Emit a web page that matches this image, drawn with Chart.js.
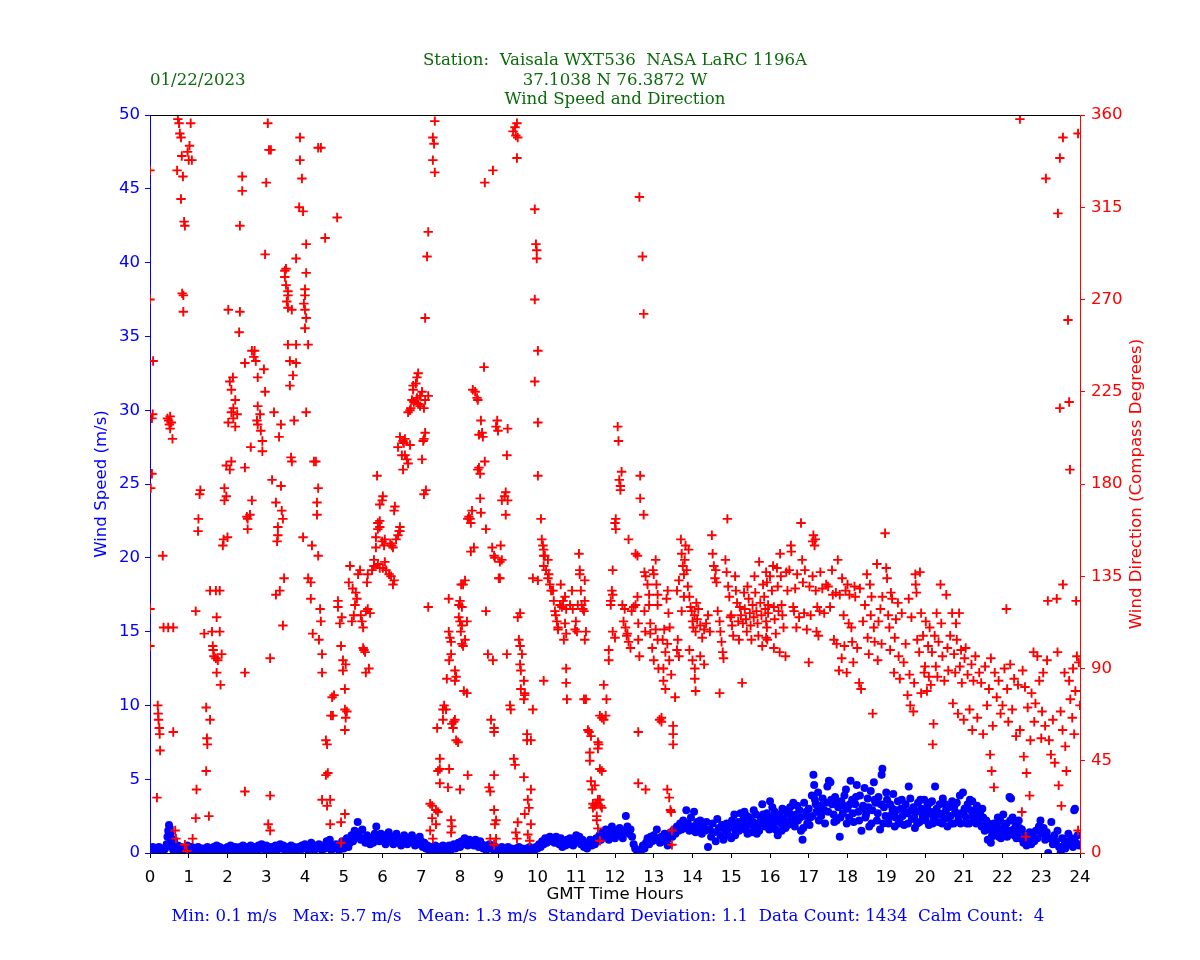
<!DOCTYPE html>
<html>
<head>
  <title>index</title>
  <script src="https://cdn.jsdelivr.net/npm/chart.js"></script>
  <style>body { margin: 0; background: #fff; }</style>
</head>
<body>
  <canvas id="chart" width="1200" height="960"></canvas>

  <script>
    const titleLines = ['Station:  Vaisala WXT536  NASA LaRC 1196A', '37.1038 N 76.3872 W', 'Wind Speed and Direction'];
    const dateLabel = '01/22/2023';
    const statsLine = 'Min: 0.1 m/s   Max: 5.7 m/s   Mean: 1.3 m/s  Standard Deviation: 1.1  Data Count: 1434  Calm Count:  4';
    const xTitle = 'GMT Time Hours';
    const speedTitle = 'Wind Speed (m/s)';
    const directionTitle = 'Wind Direction (Compass Degrees)';

    // [GMT hour, wind speed m/s]
    const speedReadings = [
      [0.00,0.3],[0.03,0.1],[0.07,0.4],[0.11,0.2],[0.15,0.3],[0.19,0.1],[0.23,0.4],[0.27,0.2],[0.31,0.3],[0.35,0.1],[0.39,0.3],[0.43,0.6],[0.45,1.1],[0.47,1.5],[0.49,1.9],[0.51,1.7],[0.53,1.3],[0.55,0.8],[0.57,0.4],[0.60,0.2],[0.62,0.9],[0.64,0.3],[0.68,0.1],[0.72,0.5],[0.76,0.2],[0.80,0.4],[0.84,0.1],[0.88,0.3],[0.92,0.2],[0.96,0.5],
      [1.00,0.2],[1.04,0.1],[1.08,0.4],[1.12,0.2],[1.16,0.3],[1.20,0.1],[1.24,0.4],[1.28,0.2],[1.32,0.3],[1.36,0.1],[1.40,0.3],[1.44,0.2],[1.48,0.4],[1.52,0.1],[1.56,0.3],[1.60,0.2],[1.64,0.4],[1.68,0.3],[1.72,0.5],[1.76,0.2],[1.80,0.4],[1.84,0.3],[1.88,0.1],[1.92,0.3],[1.96,0.2],
      [2.00,0.4],[2.04,0.2],[2.08,0.5],[2.12,0.3],[2.16,0.2],[2.20,0.4],[2.24,0.1],[2.28,0.3],[2.32,0.4],[2.36,0.2],[2.40,0.5],[2.44,0.3],[2.48,0.1],[2.52,0.4],[2.56,0.3],[2.60,0.5],[2.64,0.2],[2.68,0.4],[2.72,0.3],[2.76,0.1],[2.80,0.5],[2.84,0.3],[2.88,0.6],[2.92,0.4],[2.96,0.2],
      [3.00,0.5],[3.04,0.3],[3.08,0.1],[3.12,0.4],[3.16,0.2],[3.20,0.3],[3.24,0.5],[3.28,0.2],[3.32,0.4],[3.36,0.6],[3.40,0.3],[3.44,0.5],[3.48,0.2],[3.52,0.4],[3.56,0.1],[3.60,0.3],[3.64,0.5],[3.68,0.2],[3.72,0.4],[3.76,0.3],[3.80,0.1],[3.84,0.4],[3.88,0.2],[3.92,0.5],[3.96,0.3],
      [4.00,0.6],[4.04,0.4],[4.08,0.2],[4.12,0.5],[4.16,0.7],[4.20,0.4],[4.24,0.2],[4.28,0.5],[4.32,0.3],[4.36,0.6],[4.40,0.4],[4.44,0.2],[4.48,0.5],[4.52,0.3],[4.56,0.8],[4.60,0.4],[4.64,0.9],[4.68,0.2],[4.72,0.5],[4.76,0.3],[4.80,0.6],[4.84,0.4],[4.88,0.2],[4.92,0.5],[4.96,0.8],
      [5.00,0.3],[5.04,0.6],[5.08,1.0],[5.12,0.4],[5.16,0.7],[5.20,1.2],[5.24,0.8],[5.28,1.5],[5.32,1.1],[5.36,2.1],[5.40,1.4],[5.44,0.9],[5.48,1.6],[5.52,1.0],[5.56,0.7],[5.60,1.2],[5.64,0.9],[5.68,0.6],[5.72,1.0],[5.76,0.7],[5.80,1.3],[5.84,1.8],[5.88,1.1],[5.92,0.8],[5.96,1.3],
      [6.00,0.9],[6.04,1.2],[6.08,0.6],[6.12,1.0],[6.16,1.4],[6.20,0.8],[6.24,1.1],[6.28,0.6],[6.32,0.9],[6.36,1.3],[6.40,0.7],[6.44,1.0],[6.48,0.5],[6.52,0.8],[6.56,1.2],[6.60,0.9],[6.64,0.6],[6.68,1.0],[6.72,0.8],[6.76,1.2],[6.80,0.7],[6.84,0.5],[6.88,0.9],[6.92,0.6],[6.96,1.1],
      [7.00,0.8],[7.04,0.4],[7.08,0.7],[7.12,0.3],[7.16,0.5],[7.20,0.2],[7.24,0.4],[7.28,0.1],[7.32,0.3],[7.36,0.5],[7.40,0.2],[7.44,0.4],[7.48,0.1],[7.52,0.3],[7.56,0.5],[7.60,0.2],[7.64,0.4],[7.68,0.3],[7.72,0.5],[7.76,0.2],[7.80,0.4],[7.84,0.6],[7.88,0.3],[7.92,0.5],[7.96,0.7],
      [8.00,0.4],[8.04,0.8],[8.08,0.6],[8.12,1.0],[8.16,0.7],[8.20,0.5],[8.24,0.9],[8.28,0.6],[8.32,0.8],[8.36,0.5],[8.40,0.9],[8.44,0.7],[8.48,0.4],[8.52,0.8],[8.56,0.6],[8.60,0.3],[8.64,0.5],[8.68,0.2],[8.72,0.4],[8.76,0.6],[8.80,0.3],[8.84,0.5],[8.88,0.2],[8.92,0.4],[8.96,0.1],
      [9.00,0.3],[9.04,0.2],[9.08,0.4],[9.12,0.1],[9.16,0.3],[9.20,0.2],[9.24,0.4],[9.28,0.1],[9.32,0.3],[9.36,0.2],[9.40,0.1],[9.44,0.3],[9.48,0.2],[9.52,0.4],[9.56,0.1],[9.60,0.3],[9.64,0.2],[9.68,0.1],[9.72,0.3],[9.76,0.2],[9.80,0.4],[9.84,0.1],[9.88,0.3],[9.92,0.2],[9.96,0.4],
      [10.00,0.3],[10.04,0.6],[10.08,0.4],[10.12,0.8],[10.16,0.6],[10.20,1.0],[10.24,0.7],[10.28,0.9],[10.32,1.1],[10.36,0.8],[10.40,1.0],[10.44,0.7],[10.48,1.1],[10.52,0.9],[10.56,0.6],[10.60,1.0],[10.64,0.4],[10.68,0.7],[10.72,0.5],[10.76,0.9],[10.80,0.6],[10.84,1.0],[10.88,0.7],[10.92,0.5],[10.96,0.9],
      [11.00,1.2],[11.04,0.8],[11.08,1.1],[11.12,0.6],[11.16,0.9],[11.20,0.4],[11.24,0.7],[11.28,0.3],[11.32,0.6],[11.36,0.9],[11.40,0.5],[11.44,0.8],[11.48,0.6],[11.52,1.0],[11.56,0.8],[11.60,1.2],[11.64,0.9],[11.68,1.4],[11.72,1.1],[11.76,1.6],[11.80,1.2],[11.84,0.9],[11.88,1.4],[11.92,1.8],[11.96,1.3],
      [12.00,1.0],[12.04,1.5],[12.08,1.2],[12.12,1.7],[12.16,1.3],[12.20,1.0],[12.24,1.5],[12.28,2.5],[12.32,1.8],[12.36,1.3],[12.40,1.6],[12.44,1.1],[12.48,0.6],[12.52,0.3],[12.56,0.2],[12.60,0.1],[12.64,0.0],[12.68,0.2],[12.72,0.5],[12.76,0.3],[12.80,0.7],[12.84,1.0],[12.88,0.6],[12.92,1.1],[12.96,0.8],
      [13.00,1.2],[13.04,0.9],[13.08,1.6],[13.12,1.0],[13.16,0.7],[13.20,1.1],[13.24,0.8],[13.28,1.3],[13.32,0.9],[13.36,0.5],[13.40,1.0],[13.44,1.4],[13.48,1.1],[13.52,1.6],[13.56,1.3],[13.60,1.8],[13.64,1.5],[13.68,2.0],[13.72,1.6],[13.76,2.2],[13.80,1.7],[13.84,2.9],[13.88,2.0],[13.92,1.5],[13.96,2.4],
      [14.00,1.8],[14.04,2.8],[14.08,1.4],[14.12,2.1],[14.16,1.7],[14.20,2.2],[14.24,1.3],[14.28,1.9],[14.32,1.5],[14.36,2.1],[14.40,0.4],[14.44,1.6],[14.48,1.1],[14.52,2.0],[14.56,1.4],[14.60,0.8],[14.64,2.3],[14.68,1.7],[14.72,1.2],[14.76,1.9],[14.80,0.9],[14.84,1.5],[14.88,2.0],[14.92,1.2],[14.96,1.7],
      [15.00,1.0],[15.04,1.8],[15.08,2.6],[15.12,1.4],[15.16,2.1],[15.20,1.5],[15.24,2.7],[15.28,1.8],[15.32,2.3],[15.36,1.6],[15.40,2.5],[15.44,1.9],[15.48,2.4],[15.52,1.4],[15.56,2.1],[15.60,1.7],[15.64,2.6],[15.68,2.0],[15.72,1.5],[15.76,2.4],[15.80,3.3],[15.84,2.2],[15.88,1.8],[15.92,2.7],[15.96,2.1],
      [16.00,3.5],[16.04,2.4],[16.08,1.9],[16.12,2.8],[16.16,2.2],[16.20,1.2],[16.24,2.6],[16.28,2.0],[16.32,3.0],[16.36,2.3],[16.40,1.7],[16.44,2.7],[16.48,2.1],[16.52,3.1],[16.56,2.4],[16.60,3.4],[16.64,1.8],[16.68,2.6],[16.72,2.2],[16.76,2.9],[16.80,1.5],[16.84,0.9],[16.88,3.4],[16.92,2.5],[16.96,2.0],
      [17.00,3.0],[17.04,2.4],[17.08,3.9],[17.12,5.3],[17.14,4.6],[17.16,3.6],[17.20,2.8],[17.24,4.1],[17.28,3.2],[17.32,2.5],[17.36,3.7],[17.40,2.9],[17.44,3.4],[17.48,4.5],[17.52,4.9],[17.56,4.8],[17.60,3.3],[17.64,2.6],[17.68,3.8],[17.72,2.2],[17.76,3.1],[17.80,1.1],[17.84,3.5],[17.88,2.7],[17.92,3.9],[17.96,4.3],
      [18.00,3.0],[18.04,2.4],[18.08,4.9],[18.12,3.6],[18.16,2.1],[18.20,3.3],[18.24,4.6],[18.28,2.8],[18.32,3.9],[18.36,1.5],[18.40,3.2],[18.44,4.4],[18.48,2.6],[18.52,3.7],[18.56,1.8],[18.60,4.2],[18.64,2.9],[18.68,4.8],[18.72,3.4],[18.76,2.2],[18.80,3.8],[18.84,1.6],[18.88,5.3],[18.90,5.7],[18.94,3.1],[18.98,2.5],
      [19.02,3.6],[19.06,2.0],[19.10,3.3],[19.14,2.6],[19.18,4.0],[19.22,1.8],[19.26,2.9],[19.30,3.5],[19.34,2.2],[19.38,3.0],[19.42,2.5],[19.46,1.9],[19.50,3.3],[19.54,2.7],[19.58,4.5],[19.62,3.7],[19.66,2.3],[19.70,3.1],[19.74,1.7],[19.78,2.8],[19.82,3.4],[19.86,2.1],[19.90,3.0],[19.94,2.5],[19.98,3.6],
      [20.02,2.2],[20.06,3.2],[20.10,1.9],[20.14,2.8],[20.18,3.5],[20.22,2.4],[20.26,4.5],[20.30,3.0],[20.34,2.1],[20.38,3.3],[20.42,2.6],[20.46,3.7],[20.50,2.3],[20.54,2.9],[20.58,1.8],[20.62,3.1],[20.66,2.5],[20.70,3.5],[20.74,2.0],[20.78,2.8],[20.82,3.4],[20.86,2.2],[20.90,3.9],[20.94,2.7],[20.98,4.1],
      [21.02,3.0],[21.06,2.4],[21.10,3.3],[21.14,2.0],[21.18,2.9],[21.22,3.5],[21.26,2.3],[21.30,2.8],[21.34,3.2],[21.38,2.1],[21.42,2.7],[21.46,1.8],[21.50,2.4],[21.54,1.5],[21.58,2.2],[21.62,0.9],[21.66,1.6],[21.70,0.7],[21.74,1.4],[21.78,2.0],[21.82,1.3],[21.86,1.8],[21.90,1.1],[21.94,2.2],[21.98,1.6],
      [22.02,2.6],[22.06,1.3],[22.10,2.0],[22.14,1.5],[22.18,3.8],[22.22,3.7],[22.26,2.4],[22.30,1.2],[22.34,1.9],[22.38,1.4],[22.42,2.2],[22.46,1.0],[22.50,1.6],[22.54,0.7],[22.58,1.2],[22.62,0.5],[22.66,0.9],[22.70,1.4],[22.74,0.6],[22.78,1.1],[22.82,0.8],[22.86,1.5],[22.90,1.0],[22.94,1.8],[22.98,2.2],
      [23.02,1.3],[23.06,1.7],[23.10,0.9],[23.14,1.4],[23.18,0.0],[23.22,1.0],[23.26,2.1],[23.30,0.6],[23.34,1.2],[23.38,0.8],[23.42,1.5],[23.46,0.4],[23.50,0.0],[23.54,1.0],[23.58,0.5],[23.62,0.3],[23.66,0.8],[23.70,1.3],[23.74,0.6],[23.78,1.0],[23.82,0.4],[23.85,2.9],[23.87,3.0],[23.90,0.7],[23.94,1.2],[23.98,0.5],
      [15.02,2.2],[15.10,1.2],[15.18,1.9],[15.26,2.1],[15.34,2.8],[15.42,1.3],[15.50,2.0],[15.58,2.9],[15.66,1.3],[15.74,2.0],[15.82,2.6],[15.90,2.3],[15.98,1.6],[16.06,3.1],[16.14,1.6],[16.22,2.4],[16.30,1.5],[16.38,2.9],[16.46,1.9],[16.54,2.6],[16.62,2.0],[16.70,3.2],[16.78,2.4],[16.86,1.7],[16.94,2.8],
      [17.02,1.9],[17.10,2.5],[17.18,3.3],[17.26,2.2],[17.34,3.0],[17.42,2.0],[17.50,2.8],[17.58,3.6],[17.66,2.1],[17.74,3.4],[17.82,2.4],[17.90,3.2],[17.98,2.0],[18.06,3.3],[18.14,2.7],[18.22,3.8],[18.30,2.2],[18.38,3.0],[18.46,2.4],[18.54,3.1],[18.62,2.0],[18.70,3.6],[18.78,2.7],[18.86,3.3],[18.92,2.0],
      [19.00,4.1],[19.08,2.4],[19.16,3.0],[19.24,2.4],[19.32,2.0],[19.40,3.6],[19.48,2.8],[19.56,2.0],[19.64,2.9],[19.72,2.4],[19.80,2.0],[19.88,3.6],[19.96,2.8],[20.04,2.6],[20.12,3.4],[20.20,2.0],[20.28,2.6],[20.36,2.7],[20.44,2.0],[20.52,3.3],[20.60,2.4],[20.68,2.0],[20.76,3.2],[20.84,2.6],[20.92,2.0],
      [21.00,2.6],[21.08,2.0],[21.16,3.6],[21.24,2.6],[21.32,2.0],[21.40,2.4],[21.48,3.0],[21.56,1.9],[21.64,2.0],[21.72,1.1],[21.80,1.6],[21.88,2.4],[21.96,1.0],[22.04,1.8],[22.12,1.1],[22.20,2.2],[22.28,1.6],[22.36,1.0],[22.44,1.7]
    ];

    // [GMT hour, wind direction compass degrees]
    const directionReadings = [
      [0.00,333],[0.00,270],[0.00,119],[0.00,101],[0.02,178],[0.05,185],[0.08,240],[0.05,212],[0.07,214],[0.18,27],[0.20,72],[0.21,68],[0.22,65],[0.24,61],[0.25,58],[0.26,50],[0.33,145],[0.35,110],[0.47,110],[0.45,212],[0.48,211],[0.50,209],[0.52,213],[0.55,210],[0.52,207],[0.58,202],[0.60,110],[0.60,59],[0.65,11],[0.67,7],
      [0.70,333],[0.72,358],[0.75,356],[0.77,351],[0.80,349],[0.82,340],[0.85,330],[0.80,319],[0.88,308],[0.90,306],[0.83,273],[0.86,272],[0.86,264],[0.90,4],[0.97,342],[1.00,338],[1.02,345],[1.05,356],[1.08,338],[0.95,1],
      [1.10,7],[1.18,118],[1.18,17],[1.20,31],[1.30,177],[1.28,175],[1.25,163],[1.24,157],[1.40,107],[1.45,71],[1.47,56],[1.48,53],[1.45,40],[1.52,18],[1.55,128],[1.55,65],[1.60,108],[1.62,101],[1.63,99],[1.65,96],[1.70,95],[1.75,94],[1.70,128],[1.72,115],[1.72,88],[1.80,128],[1.80,108],[1.85,97],[1.82,82],[1.90,153],[1.88,150],[1.92,172],[1.97,174],[1.92,178],[1.97,189],[2.00,154],[2.02,265],[2.02,210],
      [2.06,230],[2.10,226],[2.14,232],[2.10,215],[2.15,217],[2.20,221],[2.15,212],[2.20,208],[2.25,214],[2.10,191],[2.06,187],[2.30,254],[2.32,264],[2.32,306],[2.38,323],[2.38,330],[2.45,188],[2.45,239],[2.45,88],[2.45,30],[2.52,163],[2.52,158],[2.50,164],[2.58,165],[2.63,172],[2.60,198],[2.63,245],[2.70,245],[2.68,242],[2.73,240],[2.76,211],[2.78,209],[2.84,214],[2.86,206],[2.90,201],[2.78,218],[2.78,232],[2.90,196],[2.94,236],[2.97,225],[2.97,292],[3.00,327],[3.05,14],[3.10,11],[3.04,356],[3.07,343],[3.12,343],[3.10,95],[3.10,28],
      [3.15,182],[3.20,215],[3.25,171],[3.30,155],[3.28,152],[3.30,159],[3.25,126],[3.35,128],[3.33,203],[3.38,209],[3.40,167],[3.43,163],[3.38,179],[3.43,111],[3.46,134],[3.48,284],[3.48,281],[3.51,285],[3.51,277],[3.56,274],[3.53,269],[3.56,272],[3.56,266],[3.56,248],[3.61,228],[3.61,240],[3.66,191],[3.64,193],[3.69,233],[3.77,239],[3.72,211],[3.66,265],[3.77,248],[3.77,290],[3.85,315],[3.87,338],[3.87,349],[3.92,329],[3.95,313],[3.97,268],[4.00,272],[4.00,275],[4.00,265],[4.03,261],[4.00,256],[4.03,283],[4.03,297],[4.03,215],[4.08,248],[3.95,154],[4.08,134],[4.15,132],[4.15,124],[4.18,150],[4.20,107],[4.23,191],[4.28,191],[4.34,344],[4.41,344],[4.34,178],[4.31,171],[4.31,165],[4.34,145],[4.39,119],[4.41,113],[4.36,104],[4.44,97],[4.44,88],[4.44,26],
      [4.52,300],[4.54,55],[4.57,53],[4.54,38],[4.59,39],[4.57,23],[4.65,26],[4.67,67],[4.72,67],[4.70,76],[4.75,77],[4.65,14],[4.83,310],[4.85,123],[4.85,120],[4.90,112],[4.95,115],[4.93,101],[4.98,94],[4.98,89],[5.05,92],[5.03,80],[5.03,70],[5.08,69],[5.05,66],[5.03,60],[5.03,19],[4.93,15],[4.93,5],
      [5.16,140],[5.13,132],[5.23,129],[5.21,113],[5.26,116],[5.29,121],[5.34,124],[5.31,127],[5.37,136],[5.42,138],[5.44,116],[5.47,113],[5.50,110],[5.50,100],[5.52,99],[5.55,98],[5.57,88],[5.57,118],[5.62,119],[5.60,132],[5.62,136],[5.65,90],[5.68,117],[5.73,138],[5.78,140],[5.78,143],[5.83,149],[5.83,154],[5.88,158],[5.88,161],[5.93,162],[5.93,159],[5.86,184],[5.88,141],[5.93,139],[5.93,170],[5.99,172],[6.01,174],[5.99,152],[6.06,153],[6.04,150],[6.09,138],[6.06,142],[6.01,139],
      [6.20,151],[6.24,150],[6.17,136],[6.22,135],[6.30,133],[6.27,131],[6.27,149],[6.35,153],[6.40,155],[6.30,167],[6.32,169],[6.45,159],[6.45,157],[6.43,157],[6.50,194],[6.40,198],[6.45,203],[6.53,201],[6.55,200],[6.58,202],[6.53,187],[6.58,194],[6.63,192],[6.66,190],[6.66,215],[6.71,216],[6.73,217],[6.76,221],[6.71,199],[6.79,226],[6.79,228],[6.86,229],[6.81,220],[6.89,222],[6.89,232],[6.92,234],[6.97,223],[7.02,225],[6.92,219],[6.97,218],[7.02,192],[7.05,201],[7.10,205],[7.07,202],[7.07,175],[7.12,177],[7.07,217],[7.10,221],[7.18,223],[7.10,261],[7.15,291],[7.18,303],
      [7.18,120],[7.23,24],[7.28,23],[7.23,11],[7.28,17],[7.30,7],[7.30,338],[7.30,349],[7.33,346],[7.35,332],[7.35,357],[7.38,14],[7.38,21],[7.43,20],[7.41,61],[7.43,40],[7.48,41],[7.48,46],[7.48,34],[7.56,65],[7.56,70],[7.59,72],[7.64,70],[7.66,85],[7.69,32],[7.71,124],[7.71,108],[7.74,105],[7.77,103],[7.77,10],[7.72,41],[7.77,97],[7.72,94],[7.77,16],[7.79,13],[7.79,63],[7.84,64],[7.82,61],[7.87,65],[7.87,89],[7.90,86],[7.87,84],[7.90,55],[7.95,54],[8.00,31],[8.00,123],[7.97,121],[8.05,120],[8.00,113],[8.05,111],[7.97,115],[8.02,108],[8.05,102],[8.08,101],[8.03,131],[8.08,131],[8.13,133],[8.18,113],[8.13,104],[8.10,79],[8.18,78],[8.20,38],
      [8.20,163],[8.23,164],[8.26,163],[8.28,161],[8.31,167],[8.28,147],[8.33,226],[8.39,225],[8.44,222],[8.46,221],[8.36,149],[8.46,187],[8.49,188],[8.52,185],[8.49,204],[8.54,166],[8.54,211],[8.57,205],[8.59,203],[8.52,173],[8.64,191],[8.62,237],[8.67,118],[8.64,327],[8.67,158],[8.72,97],[8.75,32],[8.78,30],[8.80,65],[8.78,7],[8.83,149],[8.88,145],[8.90,144],[8.85,333],[8.85,94],[8.88,61],[8.88,59],[8.88,38],[8.88,21],[8.90,14],[8.93,16],[8.93,7],[8.88,4],[8.93,208],[8.96,211],[8.98,206],[9.00,134],[9.03,134],[9.03,142],[9.08,143],[9.05,150],[9.08,172],[9.15,174],[9.23,172],[9.18,176],[9.18,165],[9.21,194],[9.23,207],[9.21,97],[9.29,72],[9.31,70],[9.39,46],[9.42,43],[9.44,10],[9.47,7],[9.49,15],[9.52,104],
      [9.37,352],[9.42,354],[9.44,350],[9.47,356],[9.49,349],[9.47,339],[9.49,115],[9.55,117],[9.55,101],[9.60,97],[9.55,92],[9.57,89],[9.57,80],[9.65,84],[9.67,78],[9.67,77],[9.65,75],[9.65,37],[9.67,19],[9.73,58],[9.73,55],[9.75,26],[9.78,22],[9.83,31],[9.75,9],[9.80,6],[9.83,14],[9.83,55],[9.88,70],[9.88,134],[9.93,314],[9.93,270],[9.93,230],[9.96,297],[9.98,290],[9.98,294],[10.01,245],[10.01,210],[10.01,184],[10.01,133],[10.09,163],[10.11,153],[10.14,150],[10.16,148],[10.16,145],[10.19,145],[10.27,143],[10.16,140],[10.22,138],[10.27,134],[10.29,136],[10.32,131],[10.35,128],[10.16,84],
      [10.40,128],[10.42,123],[10.45,118],[10.47,116],[10.50,113],[10.53,110],[10.53,109],[10.58,121],[10.63,120],[10.60,131],[10.71,125],[10.66,123],[10.74,119],[10.71,112],[10.74,107],[10.68,104],[10.74,90],[10.74,83],[10.76,75],[10.84,121],[10.89,128],[10.91,119],[10.97,109],[11.02,108],[10.99,113],[11.04,121],[11.07,146],[11.09,136],[11.09,138],[11.14,121],[11.17,119],[11.20,118],[11.22,123],[11.22,133],[11.12,128],[11.22,104],[11.25,108],[11.20,75],[11.25,75],[11.30,60],[11.33,59],[11.35,45],[11.35,49],[11.38,57],[11.38,35],[11.41,31],[11.43,24],[11.43,22],[11.48,23],[11.51,24],[11.48,33],[11.53,18],[11.56,26],[11.56,54],[11.56,51],[11.58,53],[11.61,67],[11.61,6],
      [11.53,16],[11.56,12],[11.61,41],[11.66,40],[11.61,26],[11.63,23],[11.66,22],[11.66,66],[11.71,65],[11.76,67],[11.78,75],[11.71,82],[11.84,99],[11.84,94],[11.89,123],[11.89,121],[11.92,128],[11.94,126],[11.94,138],[11.94,108],[12.00,105],[12.00,161],[12.02,158],[12.02,163],[12.07,208],[12.09,201],[12.11,182],[12.14,179],[12.14,177],[12.17,186],[12.19,121],[12.22,113],[12.25,119],[12.27,110],[12.30,106],[12.32,107],[12.35,103],[12.40,100],[12.35,153],[12.43,118],[12.48,120],[12.53,121],[12.58,125],[12.53,146],[12.58,145],[12.60,112],[12.60,104],[12.63,96],[12.63,320],[12.65,184],[12.65,173],[12.71,291],[12.74,263],[12.74,165],[12.76,137],[12.79,135],[12.76,118],[12.78,108],[12.79,31],[12.84,131],[12.88,126],[12.88,121],[12.60,59],[12.60,34],
      [12.91,112],[12.91,107],[12.98,138],[13.00,136],[12.96,100],[13.00,94],[13.05,143],[13.07,131],[13.10,126],[13.10,121],[13.05,109],[13.10,104],[13.12,90],[13.15,65],[13.20,66],[13.20,64],[13.25,90],[13.25,84],[13.30,80],[13.27,109],[13.30,98],[13.23,104],[13.35,102],[13.40,94],[13.45,87],[13.50,62],[13.50,58],[13.50,53],[13.55,76],[13.33,124],[13.36,128],[13.38,117],[13.41,110],[13.35,31],[13.40,27],[13.43,21],[13.45,20],[13.47,11],[13.47,4],[13.60,99],[13.62,104],[13.65,96],[13.70,153],[13.72,146],[13.75,140],[13.78,136],[13.80,143],[13.82,150],[13.85,138],[13.88,130],[13.72,118],[13.78,125],[13.60,128],[13.65,133],
      [13.90,148],[13.92,125],[13.95,120],[13.98,118],[14.00,113],[14.02,110],[14.05,116],[14.08,108],[14.10,122],[14.12,114],[14.15,119],[14.20,111],[14.25,105],[14.30,109],[14.35,112],[14.40,116],[14.45,108],[14.50,155],[14.52,146],[14.55,140],[14.58,134],[14.60,138],[14.62,132],[14.65,118],[14.70,113],[14.72,108],[14.75,103],[14.78,98],[14.80,95],[14.85,143],[14.88,137],[14.90,163],[14.92,130],[14.95,125],[14.98,115],
      [13.92,99],[14.00,94],[14.06,90],[14.06,85],[14.08,79],[14.20,96],[14.30,92],[14.70,78],
      [15.00,116],[15.02,111],[15.05,106],[15.10,135],[15.12,128],[15.15,122],[15.18,113],[15.20,104],[15.22,120],[15.25,116],[15.28,83],[15.30,112],[15.33,127],[15.35,119],[15.38,114],[15.40,108],[15.42,130],[15.45,124],[15.48,117],[15.50,111],[15.52,104],[15.55,121],[15.58,115],[15.60,135],[15.62,127],[15.65,118],[15.68,112],[15.70,106],[15.72,142],[15.75,122],[15.78,116],[15.80,101],[15.82,131],[15.85,125],[15.88,119],[15.90,113],
      [15.90,137],[15.92,132],[15.95,121],[15.95,117],[15.92,110],[15.90,105],[15.93,104],[16.00,135],[16.05,128],[16.08,140],[16.10,120],[16.12,114],[16.15,107],[16.18,139],[16.20,130],[16.22,118],[16.26,146],[16.28,135],[16.30,121],[16.32,116],[16.10,100],[16.25,98],[16.40,96],[16.35,110],[16.42,137],[16.45,128],[16.50,138],[16.54,150],[16.55,147],[16.60,120],[16.62,118],[16.65,129],[16.68,110],[16.70,136],[16.75,115],[16.80,161],[16.83,143],[16.85,132],[16.88,117],[16.90,138],[16.95,109],
      [17.00,93],[17.02,130],[17.05,116],[17.10,152],[17.12,155],[17.15,150],[17.17,153],[17.10,135],[17.18,128],[17.20,108],[17.22,120],[17.25,106],[17.28,118],[17.30,137],[17.35,129],[17.40,117],[17.45,131],[17.50,130],[17.55,120],[17.60,138],[17.62,126],[17.65,104],[17.70,127],[17.72,102],[17.75,143],[17.78,89],[17.80,126],[17.85,95],[17.86,134],[17.90,116],[17.92,101],[17.95,128],[17.98,88],
      [18.00,131],[18.03,112],[18.05,126],[18.10,110],[18.12,103],[18.15,93],[18.18,130],[18.20,125],[18.25,100],[18.30,83],[18.32,129],[18.35,80],[18.40,113],[18.45,121],[18.50,136],[18.52,105],[18.55,97],[18.58,131],[18.60,116],[18.62,125],[18.65,68],[18.68,110],[18.70,103],[18.76,141],[18.78,94],[18.80,113],[18.85,119],[18.88,102],[18.90,125],[18.97,156],
      [19.00,139],[19.02,134],[19.05,116],[19.08,110],[19.10,99],[19.12,127],[19.15,124],[19.20,88],[19.22,105],[19.25,114],[19.30,122],[19.32,96],[19.35,85],[19.40,117],[19.45,93],[19.50,102],[19.55,77],[19.58,124],[19.60,87],[19.62,72],[19.65,115],[19.70,69],[19.72,83],[19.75,136],[19.76,131],[19.78,127],[19.80,104],[19.85,98],[19.90,78],
      [19.87,137],[19.90,117],[19.95,106],[19.98,88],[20.00,91],[20.02,113],[20.05,79],[20.08,101],[20.10,86],[20.12,110],[20.15,82],[20.18,98],[20.20,53],[20.22,63],[20.25,106],[20.28,91],[20.30,117],[20.32,86],[20.35,103],[20.40,131],[20.42,112],[20.45,96],[20.50,84],[20.55,126],[20.58,100],[20.60,89],[20.65,106],[20.70,117],[20.72,73],[20.75,97],[20.78,88],[20.80,112],[20.82,104],[20.85,68],[20.88,117],[20.90,91],[20.93,99],[20.95,83],
      [21.00,65],[21.02,95],[21.05,100],[21.10,87],[21.15,70],[21.20,92],[21.22,60],[21.25,84],[21.30,96],[21.35,66],[21.40,88],[21.45,83],[21.50,58],[21.55,91],[21.60,72],[21.65,80],[21.68,48],[21.70,95],[21.72,40],[21.75,62],[21.78,32],[21.80,88],[21.85,76],[21.90,84],[21.95,68],
      [22.00,72],[22.05,90],[22.10,119],[22.12,80],[22.15,64],[22.20,92],[22.25,70],[22.30,85],[22.35,57],[22.40,82],[22.45,358],[22.45,60],[22.50,20],[22.52,89],[22.55,47],[22.58,81],[22.60,8],[22.62,39],[22.65,71],[22.70,28],[22.72,55],[22.75,78],[22.80,98],[22.82,64],[22.85,73],[22.90,96],[22.95,84],
      [23.00,56],[23.02,69],[23.05,88],[23.10,62],[23.12,329],[23.15,94],[23.17,123],[23.20,55],[23.25,48],[23.30,65],[23.35,44],[23.40,124],[23.42,98],[23.43,312],[23.45,33],[23.48,339],[23.48,217],[23.50,69],[23.52,23],[23.55,60],[23.56,349],[23.56,131],[23.60,88],[23.62,52],[23.65,40],[23.69,260],[23.72,220],[23.72,84],[23.74,187],[23.75,75],[23.80,66],[23.82,90],[23.85,58],[23.88,79],[23.90,123],[23.92,96],[23.95,351],[23.95,11],[23.97,93],[24.00,72]
    ];

    const toPoints = rows => rows.map(r => ({ x: r[0], y: r[1] }));

    // frame top line plus all the titles, drawn as canvas text
    const labelsPlugin = {
      id: 'labels',
      afterDraw(chart) {
        const ctx = chart.ctx;
        const area = chart.chartArea;
        const midX = (area.left + area.right) / 2;
        const midY = (area.top + area.bottom) / 2;
        ctx.save();
        ctx.strokeStyle = 'black';
        ctx.lineWidth = 1;
        ctx.beginPath();
        ctx.moveTo(area.left, area.top + 0.5);
        ctx.lineTo(area.right, area.top + 0.5);
        ctx.stroke();

        ctx.textBaseline = 'middle';
        ctx.font = '16.6px "DejaVu Serif"';
        ctx.fillStyle = '#0b6b0b';
        ctx.textAlign = 'center';
        titleLines.forEach((line, i) => ctx.fillText(line, midX, 61 + i * 19.5));
        ctx.textAlign = 'left';
        ctx.fillText(dateLabel, area.left, 81);

        ctx.fillStyle = '#0000ff';
        ctx.textAlign = 'center';
        ctx.fillText(statsLine, 608, 917);

        ctx.font = '16.6px "DejaVu Sans"';
        ctx.fillStyle = 'black';
        ctx.fillText(xTitle, midX, 895);

        ctx.save();
        ctx.translate(102, midY);
        ctx.rotate(-Math.PI / 2);
        ctx.fillStyle = '#0000ff';
        ctx.fillText(speedTitle, 0, 0);
        ctx.restore();

        ctx.save();
        ctx.translate(1137, midY);
        ctx.rotate(-Math.PI / 2);
        ctx.fillStyle = '#ff0000';
        ctx.fillText(directionTitle, 0, 0);
        ctx.restore();

        ctx.restore();
      }
    };

    Chart.defaults.font.family = 'DejaVu Sans';
    Chart.defaults.font.size = 16.6;

    new Chart(document.getElementById('chart'), {
      type: 'scatter',
      data: {
        datasets: [
          {
            label: 'Wind Direction',
            data: toPoints(directionReadings),
            yAxisID: 'yDir',
            pointStyle: 'cross',
            pointRadius: 4.7,
            pointBorderColor: '#ff0000',
            pointBackgroundColor: '#ff0000',
            pointBorderWidth: 1.9,
            order: 0
          },
          {
            label: 'Wind Speed',
            data: toPoints(speedReadings),
            yAxisID: 'ySpeed',
            pointStyle: 'circle',
            pointRadius: 4,
            pointBackgroundColor: '#0000ff',
            pointBorderColor: '#0000ff',
            pointBorderWidth: 0,
            order: 1
          }
        ]
      },
      options: {
        responsive: false,
        animation: false,
        devicePixelRatio: 1,
        layout: { padding: { top: 115, left: 0, right: 0, bottom: 0 } },
        plugins: { legend: { display: false }, tooltip: { enabled: false } },
        scales: {
          x: {
            type: 'linear', min: 0, max: 24,
            ticks: { stepSize: 1, color: 'black', padding: 10, maxRotation: 0 },
            grid: { drawOnChartArea: false, color: 'black', tickLength: 5 },
            border: { color: 'black' },
            afterFit(scale) { scale.height = 107; }
          },
          ySpeed: {
            type: 'linear', position: 'left', min: 0, max: 50,
            ticks: { stepSize: 5, color: '#0000ff', padding: 5 },
            grid: { drawOnChartArea: false, color: '#0000ff', tickLength: 5 },
            border: { color: '#0000ff' },
            afterFit(scale) { scale.width = 150; }
          },
          yDir: {
            type: 'linear', position: 'right', min: 0, max: 360,
            ticks: { stepSize: 45, color: '#ff0000', padding: 6 },
            grid: { drawOnChartArea: false, color: '#ff0000', tickLength: 5 },
            border: { color: '#ff0000' },
            afterFit(scale) { scale.width = 120; }
          }
        }
      },
      plugins: [labelsPlugin]
    });
  </script>
</body>
</html>
